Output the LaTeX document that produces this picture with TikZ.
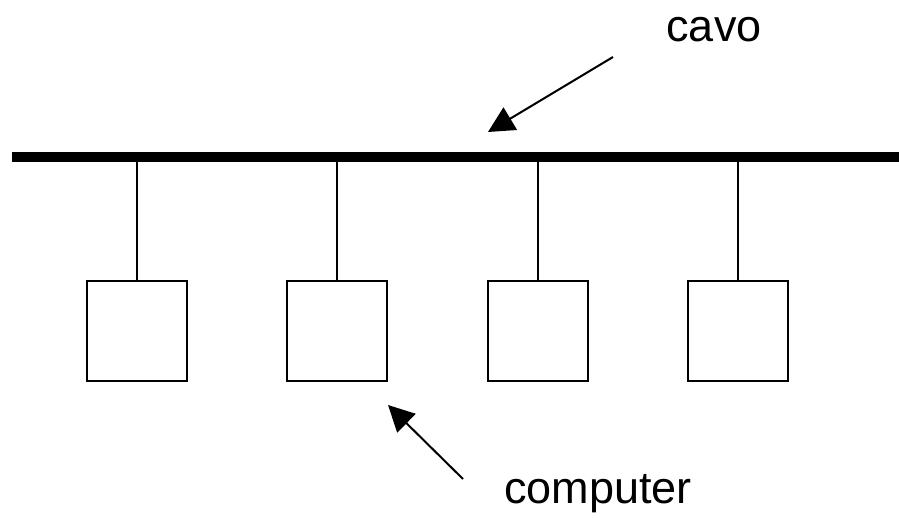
\documentclass[tikz,border=0pt]{standalone}
\usepackage{fontspec}
\setmainfont{Liberation Sans}
\usetikzlibrary{arrows.meta}
\begin{document}
\begin{tikzpicture}[x=1pt,y=-1pt,
  pc/.style={draw, line width=2pt, minimum width=100pt, minimum height=100pt, inner sep=0pt, anchor=north},
  drop/.style={line width=2pt},
  pointer/.style={line width=2pt, -{Triangle[length=26pt,width=26pt]}},
  lbl/.style={font=\fontsize{45}{54}\selectfont, anchor=base, inner sep=0pt}]
\useasboundingbox (0,0) rectangle (899,518);
\coordinate (busL) at (12,157);
\coordinate (busR) at (899,157);
\draw[line width=10pt] (busL) -- (busR);
\foreach \i/\x in {1/137,2/337,3/538,4/738} {
  \node[pc] (pc\i) at (\x,280) {};
  \coordinate (t\i) at (\x,157);
  \draw[drop] (t\i) -- (pc\i.north);
}
\node[lbl] (cavo) at (714,42) {cavo};
\node[lbl] (comp) at (598,503) {computer};
\coordinate (cavoS) at (613,57);
\coordinate (cavoE) at (488,132);
\coordinate (compS) at (463,479);
\coordinate (compE) at (388,405);
\draw[pointer] (cavoS) -- (cavoE);
\draw[pointer] (compS) -- (compE);
\end{tikzpicture}
\end{document}
